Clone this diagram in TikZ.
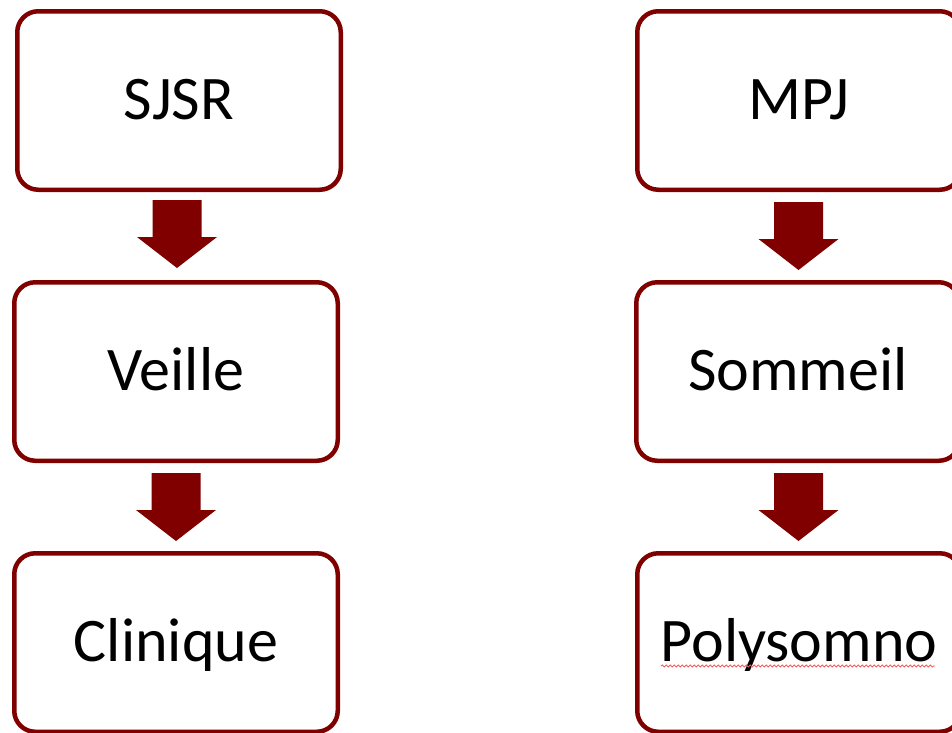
\documentclass[tikz,border=0pt]{standalone}
\usepackage{fontspec}
\setmainfont{Carlito}
\usetikzlibrary{calc,decorations.pathmorphing}

\definecolor{boxred}{HTML}{800000}
\definecolor{spellred}{HTML}{F06060}

\tikzset{
  x=1pt, y=1pt,
  stage/.style={
    draw=boxred, line width=4.5pt, rounded corners=21pt, fill=white,
    minimum width=323.5pt, minimum height=178.5pt, inner sep=0pt,
    text height=40pt, text depth=2pt,
    font=\fontsize{62}{68}\selectfont
  },
  downarrow/.pic={
    \fill[boxred] (-24.5,34) -- (24.5,34) -- (24.5,-3) -- (40,-3)
      -- (0,-34) -- (-40,-3) -- (-24.5,-3) -- cycle;
  }
}

\begin{document}
\begin{tikzpicture}
  \useasboundingbox (0,0) rectangle (952,-732);

  % left column
  \node[stage] (sjsr)     at (179,-100.5) {SJSR};
  \node[stage] (veille)   at (176,-371.5) {Veille};
  \node[stage] (clinique) at (176,-642.5) {Clinique};

  % right column
  \node[stage] (mpj)       at (799,-100.5) {MPJ};
  \node[stage] (sommeil)   at (798,-371.5) {Sommeil};
  \node[stage] (polysomno) at (799,-642.5) {Polysomno};

  % block arrows between the stages
  \pic at ($(sjsr.south)!0.5!(veille.north)+(-0.5,2)$) {downarrow};
  \pic at ($(veille.south)!0.5!(clinique.north)$) {downarrow};
  \pic at ($(mpj.south)!0.5!(sommeil.north)$) {downarrow};
  \pic at ($(sommeil.south)!0.5!(polysomno.north)$) {downarrow};

  % spell-check squiggle under the last word
  \draw[spellred, line width=0.9pt,
        decorate, decoration={snake, segment length=4pt, amplitude=1pt}]
    ($(polysomno.center)+(-138,-23.5)$) -- ($(polysomno.center)+(136,-23.5)$);
\end{tikzpicture}
\end{document}
